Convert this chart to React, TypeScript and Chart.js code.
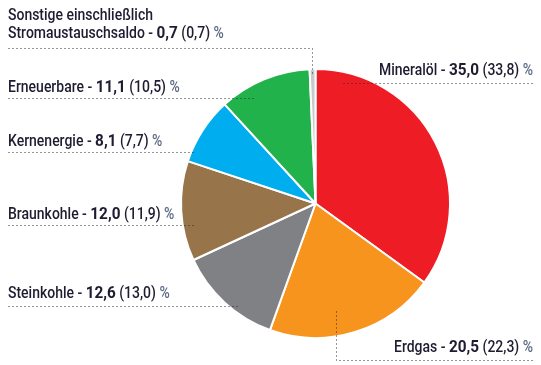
import React, { useEffect, useRef } from "react";
import { Chart, registerables } from "chart.js";

Chart.register(...registerables);

const categories = [
  "Mineralöl",
  "Erdgas",
  "Steinkohle",
  "Braunkohle",
  "Kernenergie",
  "Erneuerbare",
  "Sonstige einschließlich Stromaustauschsaldo",
];
const shareValues = [35.0, 20.5, 12.6, 12.0, 8.1, 11.1, 0.7];
const previousValues = [33.8, 22.3, 13.0, 11.9, 7.7, 10.5, 0.7];
const labelLines = [
  ["Mineralöl"],
  ["Erdgas"],
  ["Steinkohle"],
  ["Braunkohle"],
  ["Kernenergie"],
  ["Erneuerbare"],
  ["Sonstige einschließlich", "Stromaustauschsaldo"],
];
const colors = ["#ee1c25", "#f7941e", "#808184", "#98744a", "#00adee", "#21b24b", "#c9c9c9"];

// label layout: text anchor x, baseline y of last line, align, leader path
type Layout = { x: number; y: number; align: "left" | "right"; path: [number, number][] };
const layouts: Layout[] = [
  { x: 533, y: 75, align: "right", path: [[343, 83], [533, 83]] },
  { x: 533, y: 352, align: "right", path: [[336, 311], [336, 360], [533, 360]] },
  { x: 8, y: 298, align: "left", path: [[8, 306], [237, 306]] },
  { x: 8, y: 219, align: "left", path: [[8, 225], [196, 225]] },
  { x: 8, y: 146, align: "left", path: [[8, 152], [196, 152]] },
  { x: 8, y: 92, align: "left", path: [[8, 98], [256, 98]] },
  { x: 8, y: 38, align: "left", path: [[8, 48], [312, 48], [312, 74]] },
];

const FONT = 'Roboto, "DejaVu Sans Condensed", sans-serif';
const SIZE = 17;
const REF_TEXT = "Erneuerbare";
const REF_WIDTH = 76;
const BOLD_SCALE = 0.9;
const TEXT = "#1d1c30";
const PCT = "#5d6a86";
const fmt = (v: number) => v.toFixed(1).replace(".", ",");

const labelPlugin = {
  id: "outLabels",
  afterDraw(chart: any) {
    const ctx = chart.ctx as CanvasRenderingContext2D;
    ctx.save();
    const normal = `500 ${SIZE}px ${FONT}`;
    const bold = `bold ${SIZE}px ${FONT}`;
    ctx.font = normal;
    const sx = REF_WIDTH / ctx.measureText(REF_TEXT).width;
    layouts.forEach((l, i) => {
      // leader
      ctx.strokeStyle = "#2a2a2a";
      ctx.lineWidth = 1;
      ctx.setLineDash([1, 3]);
      ctx.beginPath();
      l.path.forEach(([px, py], k) => {
        if (k === 0) ctx.moveTo(px + 0.5, py + 0.5);
        else ctx.lineTo(px + 0.5, py + 0.5);
      });
      ctx.stroke();
      ctx.setLineDash([]);
      // text
      const lines = labelLines[i];
      const lh = 18;
      ctx.textBaseline = "alphabetic";
      ctx.textAlign = "left";
      lines.forEach((line, li) => {
        const by = l.y - (lines.length - 1 - li) * lh;
        const isLast = li === lines.length - 1;
        const segs: { t: string; f: string; c: string; s: number }[] = [];
        if (isLast) {
          segs.push({ t: line + " - ", f: normal, c: TEXT, s: sx });
          segs.push({ t: fmt(shareValues[i]), f: bold, c: TEXT, s: BOLD_SCALE });
          segs.push({ t: " (" + fmt(previousValues[i]) + ") ", f: normal, c: TEXT, s: sx });
          segs.push({ t: "%", f: normal, c: PCT, s: sx });
        } else {
          segs.push({ t: line, f: normal, c: TEXT, s: sx });
        }
        let w = 0;
        segs.forEach((s) => {
          ctx.font = s.f;
          w += ctx.measureText(s.t).width * s.s;
        });
        let cx = l.align === "left" ? l.x : l.x - w;
        segs.forEach((s) => {
          ctx.save();
          ctx.translate(cx, by);
          ctx.scale(s.s, 1);
          ctx.font = s.f;
          ctx.fillStyle = s.c;
          ctx.fillText(s.t, 0, 0);
          ctx.restore();
          ctx.font = s.f;
          cx += ctx.measureText(s.t).width * s.s;
        });
      });
    });
    ctx.restore();
  },
};

export default function App() {
  const ref = useRef<HTMLCanvasElement>(null);
  useEffect(() => {
    document.body.style.margin = "0";
    const chart = new Chart(ref.current!, {
      type: "pie",
      data: {
        labels: categories,
        datasets: [
          {
            data: shareValues,
            backgroundColor: colors,
            borderColor: "#ffffff",
            borderWidth: 2,
          },
        ],
      },
      options: {
        animation: false,
        responsive: false,
        rotation: 0,
        layout: { padding: { left: 180, right: 90, top: 68, bottom: 26 } },
        plugins: {
          legend: { display: false },
          tooltip: { enabled: false },
        },
      },
      plugins: [labelPlugin],
    });
    return () => chart.destroy();
  }, []);
  return (
    <div style={{ position: "absolute", left: 0, top: 0, width: 541, height: 365, background: "#fff" }}>
      <canvas ref={ref} width={541} height={365} style={{ width: 541, height: 365 }} />
    </div>
  );
}
